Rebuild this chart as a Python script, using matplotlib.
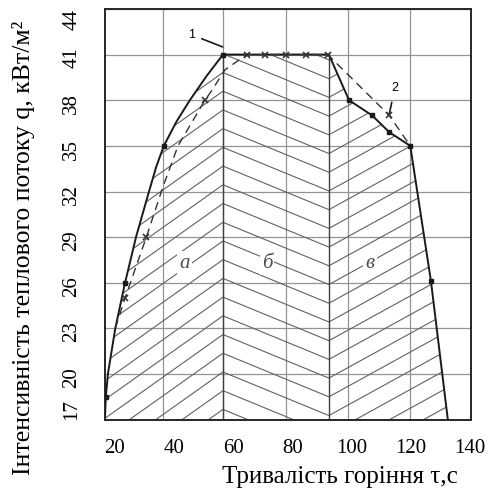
import matplotlib.pyplot as plt
import numpy as np
from matplotlib.collections import LineCollection
from matplotlib.patches import Polygon

plt.rcParams["font.family"] = ["Liberation Serif", "DejaVu Serif"]

# Curve 1 (solid): heat flux vs burning time, outer envelope of the hatched area
time_1 = [16.6, 16.9, 17.6, 20.1, 23.4, 27.1, 31.5, 33.9, 36.5, 40.8, 45.3, 51.0,
          56.5, 92.3, 99.1, 106.9, 112.7, 119.8, 126.8, 132.5]
flux_1 = [17.0, 18.5, 20.0, 23.0, 26.0, 29.0, 32.0, 33.6, 35.0, 36.6, 38.0, 39.6,
          41.0, 41.0, 38.0, 37.0, 35.9, 35.0, 26.1, 17.0]
marked_1 = [1, 4, 8, 12, 14, 15, 16, 17, 18]
plateau = (12, 13)  # indices of the stage borders on curve 1

# Curve 2 (dashed)
time_2 = [20.1, 23.4, 30.6, 36.2, 41.3, 50.4, 52.6, 57.2, 61.6, 64.5,
          70.7, 77.8, 84.5, 91.9, 112.7, 119.8]
flux_2 = [23.0, 25.0, 29.0, 32.3, 35.0, 38.0, 38.6, 40.0, 40.6, 41.0,
          41.0, 41.0, 41.0, 41.0, 37.0, 35.0]
marked_2 = [1, 2, 5, 9, 10, 11, 12, 13, 14]

# Stages of burning
stage_labels = ["а", "б", "в"]
stage_label_x = [43.6, 71.4, 106.2]
stage_label_y = [27.3, 27.3, 27.3]

x_ticks = [20, 40, 60, 80, 100, 120, 140]
y_ticks = [17, 20, 23, 26, 29, 32, 35, 38, 41, 44]
grid_x = [36.2, 56.5, 77.8, 98.8, 119.7]  # hand-drawn vertical grid

fig = plt.figure(figsize=(4.88, 4.95), dpi=100)
ax = fig.add_axes([0.215, 0.152, 0.75, 0.830])
ax.set_xlim(16.6, 140.3)
ax.set_ylim(17, 44)

# grid
ax.set_xticks(x_ticks)
ax.set_yticks(y_ticks)
ax.set_xticks(grid_x, minor=True)
ax.grid(False)
ax.grid(True, which="minor", axis="x", color="0.58", lw=0.9)
ax.grid(True, which="major", axis="y", color="0.58", lw=0.9)
ax.tick_params(which="both", length=0)
ax.tick_params(axis="x", pad=14, labelsize=15)
ax.tick_params(axis="y", pad=17, labelsize=15, labelrotation=90)
ylabels = ax.get_yticklabels()
ylabels[0].set_va("bottom")
ylabels[-1].set_va("top")
for s in ax.spines.values():
    s.set_linewidth(1.4)
    s.set_color("0.15")

# chevron hatching clipped to the area under curve 1
b1, b2 = time_1[plateau[0]], time_1[plateau[1]]
s_a, s_b, s_c = 0.138, 0.080, 0.107
segs = []
for c in np.arange(10.3, 47, 1.23):
    yb2 = c - s_b * (b2 - b1)
    segs.append([(10, c - s_a * (b1 - 10)), (b1, c), (b2, yb2),
                 (145, yb2 + s_c * (145 - b2))])
clip = Polygon(np.column_stack([time_1, flux_1]), closed=True,
               facecolor="none", edgecolor="none", transform=ax.transData)
ax.add_patch(clip)
hatch = LineCollection(segs, colors="0.38", linewidths=0.8, zorder=2)
ax.add_collection(hatch)
hatch.set_clip_path(clip)
ax.vlines([b1, b2], 17, flux_1[plateau[0]], colors="0.25", lw=1.0, zorder=2)

# curves
ax.plot(time_1, flux_1, color="0.1", lw=1.4, marker="s", ms=2.6,
        markevery=marked_1, zorder=4)
ax.plot(time_2, flux_2, color="0.2", lw=1.0, ls=(0, (6, 4)), marker="x",
        ms=4, mew=1.2, markevery=marked_2, zorder=4)

for lbl, x, y in zip(stage_labels, stage_label_x, stage_label_y):
    ax.text(x, y, lbl, fontsize=15, style="italic", color="0.3",
            ha="center", va="center", zorder=5,
            bbox=dict(fc="white", ec="none", pad=1.5))

ax.annotate("1", xy=(56.4, 41.5), xytext=(45.9, 42.3), fontsize=9,
            family="Liberation Sans", ha="center", va="center",
            arrowprops=dict(arrowstyle="-", color="0.1", lw=1.2, shrinkA=3, shrinkB=0))
ax.annotate("2", xy=(112.7, 37.1), xytext=(114.6, 38.8), fontsize=9,
            family="Liberation Sans", ha="center", va="center",
            arrowprops=dict(arrowstyle="-", color="0.1", lw=1.2, shrinkA=4, shrinkB=0))

ax.set_xlabel("Тривалість горіння τ,с", fontsize=18)
ax.xaxis.set_label_coords(0.642, -0.112)
ax.set_ylabel("Інтенсивність теплового потоку q, кВт/м²", fontsize=18.5)
ax.yaxis.set_label_coords(-0.19, 0.418)

fig.savefig("out.png", dpi=100)
